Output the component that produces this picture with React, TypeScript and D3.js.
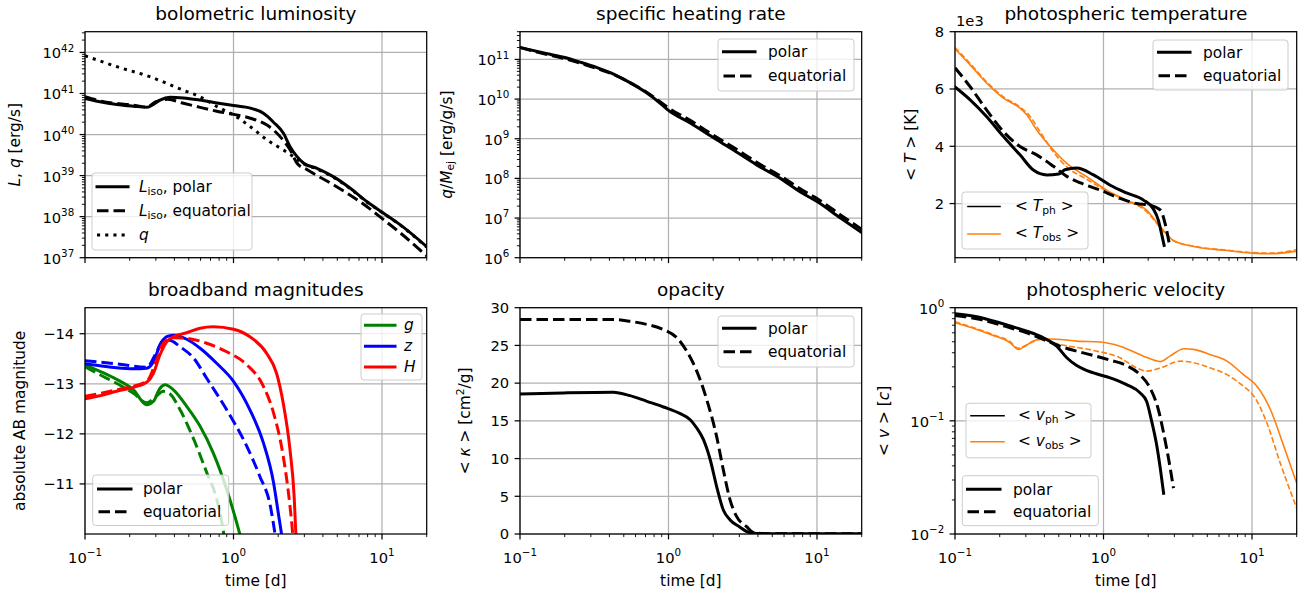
import React from 'react';
import * as d3 from 'd3';

// ---------------- data ----------------
// Panel 1: bolometric luminosity [erg/s]
const lumPolarT = [0.1, 0.126, 0.164, 0.212, 0.261, 0.289, 0.32, 0.374, 0.46, 0.596, 0.773, 1.0, 1.3, 1.59, 1.86, 2.17, 2.41, 2.68, 2.97, 3.65, 4.73, 6.12, 7.94, 10.3, 13.3, 20];
const lumPolar = [7.6e40, 6.3e40, 5.4e40, 4.9e40, 4.6e40, 5.4e40, 6.9e40, 8.1e40, 7.8e40, 6.9e40, 5.9e40, 5.1e40, 4.4e40, 3.3e40, 2.0e40, 1.07e40, 5.0e39, 2.9e39, 2.0e39, 1.5e39, 9.3e38, 4.9e38, 2.3e38, 1.2e38, 6.3e37, 1.86e37];
const lumEqT = [0.1, 0.126, 0.212, 0.261, 0.3, 0.36, 0.46, 0.596, 0.773, 1.0, 1.3, 1.68, 2.06, 2.41, 2.68, 3.14, 4.73, 7.94, 10.3, 13.3, 20];
const lumEq = [8.3e40, 6.6e40, 5.2e40, 4.7e40, 6.3e40, 7.2e40, 5.8e40, 4.6e40, 3.7e40, 3.1e40, 2.5e40, 1.7e40, 8.9e39, 4.2e39, 2.0e39, 1.38e39, 5.9e38, 1.74e38, 8.3e37, 4.0e37, 1.1e37];
const heatLumT = [0.1, 0.164, 0.27, 0.46, 0.596, 0.773, 1.0, 1.3, 1.68, 2.17, 2.54, 3.0, 3.65, 4.73, 6.12, 7.94, 10.3, 13.3, 20];
const heatLum = [8.3e41, 4.5e41, 2.6e41, 1.2e41, 8.3e40, 4.8e40, 3.0e40, 1.55e40, 7.4e39, 4.2e39, 2.9e39, 1.9e39, 1.45e39, 9.0e38, 4.8e38, 2.25e38, 1.18e38, 6.2e37, 1.8e37];

// Panel 2: specific heating rate [erg/g/s]
const heatT = [0.1, 0.15, 0.2, 0.25, 0.33, 0.43, 0.55, 0.7, 0.9, 1.0, 1.4, 2.06, 3.0, 4.0, 5.66, 8, 10, 14.4, 20];
const heatPolar = [2.0e11, 1.41e11, 1.12e11, 8.7e10, 6.2e10, 4.2e10, 2.6e10, 1.5e10, 7.3e9, 5.2e9, 2.5e9, 1.0e9, 4.2e8, 2.1e8, 1.0e8, 4.2e7, 2.6e7, 1.0e7, 4.3e6];
const heatEq = [2.0e11, 1.35e11, 1.05e11, 8.2e10, 5.9e10, 4.1e10, 2.6e10, 1.55e10, 8.0e9, 6.0e9, 2.9e9, 1.15e9, 4.9e8, 2.45e8, 1.16e8, 5.0e7, 3.1e7, 1.2e7, 5.2e6];

// Panel 3: photospheric temperature [K]
const tphPolarT = [0.1, 0.126, 0.163, 0.212, 0.274, 0.337, 0.415, 0.5, 0.55, 0.66, 0.857, 1.11, 1.43, 1.86, 2.16, 2.34, 2.46, 2.56];
const tphPolar = [6070, 5630, 5040, 4340, 3700, 3170, 3000, 3030, 3180, 3240, 3000, 2640, 2370, 2120, 1820, 1420, 950, 540];
const tphEqT = [0.1, 0.126, 0.163, 0.212, 0.274, 0.355, 0.46, 0.566, 0.7, 0.95, 1.29, 1.67, 2.06, 2.42, 2.6, 2.8];
const tphEq = [6740, 6090, 5270, 4510, 3990, 3700, 3300, 2950, 2720, 2470, 2180, 2000, 1940, 1770, 1300, 480];
const tobsPolarT = [0.1, 0.126, 0.163, 0.212, 0.274, 0.304, 0.355, 0.46, 0.566, 0.77, 1.05, 1.43, 1.95, 2.42, 2.96, 4.05, 6.78, 10, 13.3, 20];
const tobsPolar = [7400, 6850, 6210, 5680, 5330, 5100, 4570, 3870, 3400, 2940, 2470, 2120, 1770, 1180, 710, 500, 360, 270, 250, 340];
const tobsEqT = [0.1, 0.126, 0.163, 0.212, 0.274, 0.32, 0.375, 0.46, 0.566, 0.77, 1.05, 1.43, 1.95, 2.42, 2.96, 4.05, 6.78, 10, 13.3, 20];
const tobsEq = [7450, 6900, 6250, 5720, 5370, 5050, 4500, 3800, 3280, 2850, 2430, 2100, 1720, 1150, 700, 510, 370, 290, 270, 390];

// Panel 4: broadband magnitudes (absolute AB)
const gPolarT = [0.1, 0.126, 0.163, 0.212, 0.26, 0.289, 0.32, 0.346, 0.394, 0.484, 0.596, 0.73, 0.9, 1.05, 1.15];
const gPolar = [-13.38, -13.25, -13.09, -12.88, -12.58, -12.65, -12.91, -12.98, -12.88, -12.55, -12.15, -11.62, -10.89, -10.23, -9.8];
const gEqT = [0.1, 0.126, 0.163, 0.212, 0.26, 0.304, 0.337, 0.37, 0.437, 0.54, 0.66, 0.77, 0.85, 0.88];
const gEq = [-13.34, -13.18, -13.01, -12.81, -12.62, -12.76, -12.85, -12.81, -12.48, -11.89, -11.23, -10.7, -10.1, -9.8];
const zPolarT = [0.1, 0.126, 0.163, 0.212, 0.26, 0.289, 0.32, 0.355, 0.394, 0.484, 0.596, 0.77, 1.0, 1.29, 1.59, 1.86, 2.0, 2.1, 2.15];
const zPolar = [-13.4, -13.36, -13.32, -13.3, -13.31, -13.44, -13.77, -13.94, -13.97, -13.89, -13.71, -13.41, -13.05, -12.48, -11.82, -11.03, -10.43, -10.02, -9.8];
const zEqT = [0.1, 0.163, 0.26, 0.304, 0.337, 0.37, 0.437, 0.54, 0.66, 0.9, 1.23, 1.5, 1.77, 1.9, 1.95];
const zEq = [-13.46, -13.4, -13.33, -13.64, -13.87, -13.87, -13.74, -13.51, -13.11, -12.48, -11.75, -11.16, -10.56, -10.02, -9.8];
const hPolarT = [0.1, 0.126, 0.163, 0.212, 0.26, 0.289, 0.32, 0.355, 0.394, 0.484, 0.596, 0.73, 1.0, 1.29, 1.67, 1.95, 2.16, 2.4, 2.56, 2.63, 2.66];
const hPolar = [-12.7, -12.76, -12.85, -12.93, -13.03, -13.21, -13.58, -13.84, -13.94, -14.02, -14.11, -14.14, -14.09, -13.94, -13.61, -13.21, -12.62, -11.69, -10.76, -10.02, -9.8];
const hEqT = [0.1, 0.163, 0.26, 0.304, 0.337, 0.394, 0.484, 0.66, 0.9, 1.23, 1.59, 1.86, 2.16, 2.4, 2.5, 2.53];
const hEq = [-12.75, -12.88, -13.05, -13.48, -13.81, -13.92, -13.91, -13.81, -13.64, -13.38, -12.95, -12.42, -11.56, -10.56, -10.02, -9.8];

// Panel 5: opacity [cm^2/g]
const kapPolarT = [0.1, 0.196, 0.425, 0.55, 0.715, 0.925, 1.2, 1.4, 1.55, 1.72, 1.91, 2.11, 2.34, 2.6, 3.0, 3.54, 4.36, 10, 20];
const kapPolar = [18.56, 18.7, 18.79, 18.34, 17.59, 16.84, 15.95, 15.15, 14.05, 12.5, 9.84, 6.29, 3.19, 1.86, 0.97, 0.18, 0.04, 0.02, 0.02];
const kapEqT = [0.1, 0.425, 0.55, 0.715, 0.925, 1.14, 1.33, 1.55, 1.81, 2.11, 2.34, 2.6, 2.88, 3.36, 3.72, 4.36, 10, 20];
const kapEq = [28.44, 28.44, 28.2, 27.78, 27.1, 26.0, 24.2, 21.6, 17.8, 12.9, 8.5, 4.5, 2.3, 0.97, 0.22, 0.05, 0.03, 0.03];

// Panel 6: photospheric velocity [c]
const vphPolarT = [0.1, 0.14, 0.181, 0.235, 0.304, 0.394, 0.484, 0.566, 0.66, 0.857, 1.11, 1.43, 1.76, 1.95, 2.1, 2.29, 2.42, 2.54];
const vphPolar = [0.885, 0.832, 0.762, 0.689, 0.621, 0.542, 0.457, 0.361, 0.308, 0.265, 0.24, 0.209, 0.177, 0.149, 0.102, 0.0594, 0.0369, 0.0229];
const vphEqT = [0.1, 0.14, 0.181, 0.235, 0.304, 0.394, 0.51, 0.66, 0.857, 1.11, 1.43, 1.76, 2.06, 2.34, 2.54, 2.75, 2.96];
const vphEq = [0.855, 0.8, 0.736, 0.665, 0.6, 0.524, 0.457, 0.413, 0.378, 0.344, 0.308, 0.256, 0.195, 0.126, 0.078, 0.0453, 0.0254];
const vobsPolarT = [0.1, 0.14, 0.181, 0.235, 0.267, 0.296, 0.337, 0.394, 0.51, 0.66, 0.95, 1.29, 1.86, 2.42, 2.8, 3.48, 4.05, 5.22, 6.78, 8.76, 10.8, 13.3, 16.4, 20];
const vobsPolar = [0.736, 0.643, 0.569, 0.49, 0.428, 0.457, 0.507, 0.531, 0.524, 0.507, 0.497, 0.457, 0.373, 0.334, 0.373, 0.434, 0.428, 0.385, 0.337, 0.256, 0.202, 0.126, 0.0594, 0.0281];
const vobsEqT = [0.1, 0.181, 0.235, 0.267, 0.296, 0.375, 0.51, 0.857, 1.29, 1.67, 1.95, 2.42, 3.3, 4.05, 5.22, 6.78, 8.76, 10.3, 12.6, 15.5, 20];
const vobsEq = [0.752, 0.577, 0.5, 0.437, 0.462, 0.524, 0.473, 0.419, 0.361, 0.294, 0.275, 0.294, 0.337, 0.326, 0.294, 0.256, 0.202, 0.165, 0.0957, 0.0423, 0.0169];

// tick values
const magTicks = [-14, -13, -12, -11];
const kapTicks = [0, 5, 10, 15, 20, 25, 30];
const tempTicks = [2000, 4000, 6000, 8000];

// ---------------- style ----------------
const FONT = "'DejaVu Sans', sans-serif";
const TICK_FS = 14.7;
const LABEL_FS = 15.4;
const TITLE_FS = 18.5;
const ORANGE = '#ff7f0e';
const THICK = 3;
const THIN = 1.6;
const DASH_THICK = '11.5,5';
const DASH_THIN = '5.7,2.5';
const DOT_THICK = '3.1,5.1';
const GRID = '#b0b0b0';
const MINUS = '\u2212';

const COLS = [85, 520, 955];
const PW = 341.7;
const ROWS = [31.7, 307.7];
const PHS = [226, 226.3];

type Series = { t: number[]; v: number[]; color: string; width: number; dash?: string };
type LegendEntry = { label: React.ReactNode; color: string; width: number; dash?: string };
type LegendDef = { box: number[]; rows: number[]; lineX: number[]; textX: number; base: number; entries: LegendEntry[] };

const I = (s: string) => <tspan fontStyle="italic">{s}</tspan>;

function fmtMinus(n: number) {
  return n < 0 ? MINUS + Math.abs(n) : String(n);
}

function logLabel(v: number) {
  const e = Math.round(Math.log10(v));
  return [
    <tspan key="b">10</tspan>,
    <tspan key="e" fontSize={TICK_FS * 0.7} dy={-6.6}>{fmtMinus(e)}</tspan>,
  ];
}

const isPow10 = (v: number) => Math.abs(Math.log10(v) - Math.round(Math.log10(v))) < 1e-6;

function Legend({ def }: { def: LegendDef }) {
  const [bx, by, bw, bh] = def.box;
  return (
    <g>
      <rect x={bx} y={by} width={bw} height={bh} rx={3} ry={3} fill="white" fillOpacity={0.8} stroke="#cccccc" strokeWidth={1} />
      {def.entries.map((e, i) => (
        <g key={i}>
          <line x1={def.lineX[0]} x2={def.lineX[1]} y1={def.rows[i]} y2={def.rows[i]} stroke={e.color} strokeWidth={e.width}
            strokeDasharray={e.dash} strokeLinecap={e.dash ? 'butt' : 'square'} />
          <text x={def.textX} y={def.rows[i] + def.base} fontSize={LABEL_FS} fill="black">{e.label}</text>
        </g>
      ))}
    </g>
  );
}

type PanelDef = {
  id: string; col: number; row: number; title: string;
  ys: any; yMajor: number[]; yMinor: number[]; yFmt: (v: number) => React.ReactNode; yLog: boolean;
  ylabel: React.ReactNode; ylabelX: number;
  series: Series[]; legends: LegendDef[]; xLabels: boolean; extra?: React.ReactNode;
};

function Panel({ p }: { p: PanelDef }) {
  const x0 = COLS[p.col], y0 = ROWS[p.row], w = PW, h = PHS[p.row];
  const xs = d3.scaleLog().domain([0.1, 20]).range([x0, x0 + w]);
  const xt = xs.ticks();
  const xMaj = xt.filter(isPow10);
  const xMin = xt.filter((v) => !isPow10(v));
  const ys = p.ys;
  const bottom = y0 + h;
  return (
    <g>
      {/* grid */}
      {xMaj.map((v) => (
        <line key={'gx' + v} x1={xs(v)} x2={xs(v)} y1={y0} y2={bottom} stroke={GRID} strokeWidth={1.24} />
      ))}
      {p.yMajor.map((v) => (
        <line key={'gy' + v} x1={x0} x2={x0 + w} y1={ys(v)} y2={ys(v)} stroke={GRID} strokeWidth={1.24} />
      ))}
      <clipPath id={'clip-' + p.id}>
        <rect x={x0} y={y0} width={w} height={h} />
      </clipPath>
      <g clipPath={`url(#clip-${p.id})`}>
        {p.series.map((s, i) => {
          const gen = d3.line<number>().x((_d, j) => xs(s.t[j])).y((d) => ys(d)).curve(d3.curveMonotoneX);
          return (
            <path key={i} d={gen(s.v) || ''} fill="none" stroke={s.color} strokeWidth={s.width}
              strokeDasharray={s.dash} strokeLinejoin="round" strokeLinecap={s.dash ? 'butt' : 'square'} />
          );
        })}
      </g>
      {/* spines */}
      <rect x={x0} y={y0} width={w} height={h} fill="none" stroke="black" strokeWidth={1.24} />
      {/* x ticks */}
      {xMaj.map((v) => (
        <line key={'xt' + v} x1={xs(v)} x2={xs(v)} y1={bottom} y2={bottom + 5.4} stroke="black" strokeWidth={1.24} />
      ))}
      {xMin.map((v) => (
        <line key={'xm' + v} x1={xs(v)} x2={xs(v)} y1={bottom} y2={bottom + 3.1} stroke="black" strokeWidth={0.93} />
      ))}
      {p.xLabels && xMaj.map((v) => (
        <text key={'xl' + v} x={xs(v)} y={bottom + 29} fontSize={TICK_FS} textAnchor="middle">{logLabel(v)}</text>
      ))}
      {p.xLabels && (
        <text x={x0 + w / 2} y={585.5} fontSize={LABEL_FS} textAnchor="middle">time [d]</text>
      )}
      {/* y ticks */}
      {p.yMajor.map((v) => (
        <line key={'yt' + v} x1={x0 - 5.4} x2={x0} y1={ys(v)} y2={ys(v)} stroke="black" strokeWidth={1.24} />
      ))}
      {p.yMinor.map((v) => (
        <line key={'ym' + v} x1={x0 - 3.1} x2={x0} y1={ys(v)} y2={ys(v)} stroke="black" strokeWidth={0.93} />
      ))}
      {p.yMajor.map((v) => (
        <text key={'yl' + v} x={x0 - 10.8} y={ys(v) + (p.yLog ? 6 : 5.3)} fontSize={TICK_FS} textAnchor="end">{p.yFmt(v)}</text>
      ))}
      {/* y label */}
      <text x={p.ylabelX} y={y0 + h / 2} fontSize={LABEL_FS} textAnchor="middle" dominantBaseline="central"
        transform={`rotate(-90, ${p.ylabelX}, ${y0 + h / 2})`}>{p.ylabel}</text>
      {/* title */}
      <text x={x0 + w / 2} y={y0 - 11.5} fontSize={TITLE_FS} textAnchor="middle">{p.title}</text>
      {p.extra}
      {p.legends.map((l, i) => <Legend key={i} def={l} />)}
    </g>
  );
}

function logScale(domain: number[], row: number) {
  return d3.scaleLog().domain(domain).range([ROWS[row] + PHS[row], ROWS[row]]);
}
function linScale(domain: number[], row: number) {
  return d3.scaleLinear().domain(domain).range([ROWS[row] + PHS[row], ROWS[row]]);
}
function splitLogTicks(s: any) {
  const t: number[] = s.ticks();
  return { maj: t.filter(isPow10), min: t.filter((v) => !isPow10(v)) };
}

const polarEq = (solidW: number): LegendEntry[] => [
  { label: 'polar', color: 'black', width: solidW },
  { label: 'equatorial', color: 'black', width: solidW, dash: DASH_THICK },
];

export default function App() {
  const ys1 = logScale([1e37, 3.2e42], 0);
  const ys2 = logScale([1e6, 5e11], 0);
  const ys3 = linScale([110, 8000], 0);
  const ys4 = linScale([-10, -14.52], 1);
  const ys5 = linScale([0, 30], 1);
  const ys6 = logScale([0.01, 1], 1);
  const t1 = splitLogTicks(ys1);
  const t2 = splitLogTicks(ys2);
  const t6 = splitLogTicks(ys6);

  const lisoLabel = (rest: string) => (
    <>
      {I('L')}<tspan fontSize="0.7em" dy={3}>iso</tspan><tspan dy={-3}>{rest}</tspan>
    </>
  );
  const meanSub = (sym: string, sub: string) => (
    <>
      <tspan>{'< '}</tspan>{I(sym)}<tspan fontSize="0.7em" dy={3}>{sub}</tspan><tspan dy={-3}>{' >'}</tspan>
    </>
  );

  const panels: PanelDef[] = [
    {
      id: 'p1', col: 0, row: 0, title: 'bolometric luminosity', ys: ys1, yMajor: t1.maj, yMinor: t1.min, yLog: true,
      yFmt: logLabel, ylabelX: 15,
      ylabel: <>{I('L')}<tspan>, </tspan>{I('q')}<tspan> [erg/s]</tspan></>,
      series: [
        { t: heatLumT, v: heatLum, color: 'black', width: THICK, dash: DOT_THICK },
        { t: lumEqT, v: lumEq, color: 'black', width: THICK, dash: DASH_THICK },
        { t: lumPolarT, v: lumPolar, color: 'black', width: THICK },
      ],
      legends: [{
        box: [92, 173, 160, 77], rows: [186.7, 210.7, 235], lineX: [97, 128], textX: 139, base: 5,
        entries: [
          { label: lisoLabel(', polar'), color: 'black', width: THICK },
          { label: lisoLabel(', equatorial'), color: 'black', width: THICK, dash: DASH_THICK },
          { label: I('q'), color: 'black', width: THICK, dash: DOT_THICK },
        ],
      }],
      xLabels: false,
    },
    {
      id: 'p2', col: 1, row: 0, title: 'specific heating rate', ys: ys2, yMajor: t2.maj, yMinor: t2.min, yLog: true,
      yFmt: logLabel, ylabelX: 447,
      ylabel: <>{I('q')}<tspan>/</tspan>{I('M')}<tspan fontSize="0.7em" dy={3}>ej</tspan><tspan dy={-3}> [erg/g/s]</tspan></>,
      series: [
        { t: heatT, v: heatEq, color: 'black', width: THICK, dash: DASH_THICK },
        { t: heatT, v: heatPolar, color: 'black', width: THICK },
      ],
      legends: [{ box: [718, 39, 136, 52], rows: [51.7, 76], lineX: [723.5, 755], textX: 768, base: 5.3, entries: polarEq(THICK) }],
      xLabels: false,
    },
    {
      id: 'p3', col: 2, row: 0, title: 'photospheric temperature', ys: ys3, yMajor: tempTicks, yMinor: [], yLog: false,
      yFmt: (v) => String(v / 1000), ylabelX: 911.5,
      ylabel: <><tspan>{'< '}</tspan>{I('T')}<tspan>{' > [K]'}</tspan></>,
      series: [
        { t: tobsEqT, v: tobsEq, color: ORANGE, width: THIN, dash: DASH_THIN },
        { t: tobsPolarT, v: tobsPolar, color: ORANGE, width: THIN },
        { t: tphEqT, v: tphEq, color: 'black', width: THICK, dash: DASH_THICK },
        { t: tphPolarT, v: tphPolar, color: 'black', width: THICK },
      ],
      legends: [
        { box: [1153, 40, 135, 50], rows: [52.3, 75.7], lineX: [1158.5, 1190], textX: 1203, base: 5.3, entries: polarEq(THICK) },
        {
          box: [962, 192, 126, 57], rows: [206.5, 234], lineX: [968, 1000], textX: 1015, base: 4,
          entries: [
            { label: meanSub('T', 'ph'), color: 'black', width: THIN },
            { label: meanSub('T', 'obs'), color: ORANGE, width: THIN },
          ],
        },
      ],
      xLabels: false,
      extra: <text x={956} y={26} fontSize={TICK_FS}>1e3</text>,
    },
    {
      id: 'p4', col: 0, row: 1, title: 'broadband magnitudes', ys: ys4, yMajor: magTicks, yMinor: [], yLog: false,
      yFmt: (v) => fmtMinus(v), ylabelX: 20.5,
      ylabel: 'absolute AB magnitude',
      series: [
        { t: gEqT, v: gEq, color: 'green', width: THICK, dash: DASH_THICK },
        { t: gPolarT, v: gPolar, color: 'green', width: THICK },
        { t: zEqT, v: zEq, color: 'blue', width: THICK, dash: DASH_THICK },
        { t: zPolarT, v: zPolar, color: 'blue', width: THICK },
        { t: hEqT, v: hEq, color: 'red', width: THICK, dash: DASH_THICK },
        { t: hPolarT, v: hPolar, color: 'red', width: THICK },
      ],
      legends: [
        {
          box: [361, 314, 61, 66], rows: [325.3, 346.3, 367], lineX: [365.5, 395], textX: 404, base: 5,
          entries: [
            { label: I('g'), color: 'green', width: THICK },
            { label: I('z'), color: 'blue', width: THICK },
            { label: I('H'), color: 'red', width: THICK },
          ],
        },
        { box: [92.7, 475, 136, 50.5], rows: [489, 511.7], lineX: [98.5, 131], textX: 143, base: 5.3, entries: polarEq(THICK) },
      ],
      xLabels: true,
    },
    {
      id: 'p5', col: 1, row: 1, title: 'opacity', ys: ys5, yMajor: kapTicks, yMinor: [], yLog: false,
      yFmt: (v) => String(v), ylabelX: 465.5,
      ylabel: <><tspan>{'< '}</tspan>{I('\u03ba')}<tspan>{' >  [cm'}</tspan><tspan fontSize="0.7em" dy={-5}>2</tspan><tspan dy={5}>/g]</tspan></>,
      series: [
        { t: kapEqT, v: kapEq, color: 'black', width: THICK, dash: DASH_THICK },
        { t: kapPolarT, v: kapPolar, color: 'black', width: THICK },
      ],
      legends: [{ box: [718, 316, 136, 51], rows: [328.3, 351.7], lineX: [723.5, 755], textX: 768, base: 5.3, entries: polarEq(THICK) }],
      xLabels: true,
    },
    {
      id: 'p6', col: 2, row: 1, title: 'photospheric velocity', ys: ys6, yMajor: t6.maj, yMinor: t6.min, yLog: true,
      yFmt: logLabel, ylabelX: 884,
      ylabel: <><tspan>{'< '}</tspan>{I('v')}<tspan>{' > ['}</tspan>{I('c')}<tspan>]</tspan></>,
      series: [
        { t: vobsEqT, v: vobsEq, color: ORANGE, width: THIN, dash: DASH_THIN },
        { t: vobsPolarT, v: vobsPolar, color: ORANGE, width: THIN },
        { t: vphEqT, v: vphEq, color: 'black', width: THICK, dash: DASH_THICK },
        { t: vphPolarT, v: vphPolar, color: 'black', width: THICK },
      ],
      legends: [
        {
          box: [966, 403.3, 125, 54.5], rows: [415.7, 441.7], lineX: [971, 1004], textX: 1018, base: 4,
          entries: [
            { label: meanSub('v', 'ph'), color: 'black', width: THIN },
            { label: meanSub('v', 'obs'), color: ORANGE, width: THIN },
          ],
        },
        { box: [962.3, 475.7, 136, 50], rows: [489.3, 511.7], lineX: [967.5, 1000], textX: 1013, base: 5.3, entries: polarEq(THICK) },
      ],
      xLabels: true,
    },
  ];

  return (
    <svg width={1309} height={599} viewBox="0 0 1309 599"
      style={{ position: 'absolute', left: 0, top: 0, background: 'white', whiteSpace: 'pre' }}
      fontFamily={FONT} fill="black">
      <rect x={0} y={0} width={1309} height={599} fill="white" />
      {panels.map((p) => <Panel key={p.id} p={p} />)}
    </svg>
  );
}
